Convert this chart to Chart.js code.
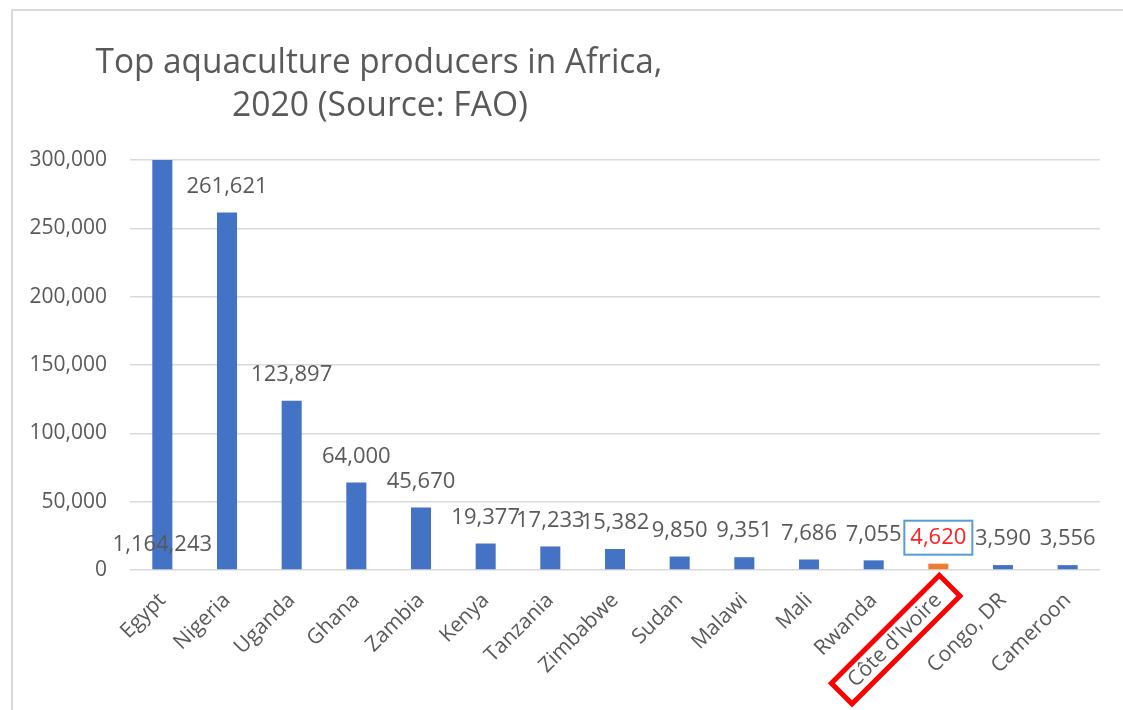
<!DOCTYPE html>
<html><head><meta charset="utf-8">
<script src="https://cdn.jsdelivr.net/npm/chart.js@4/dist/chart.umd.min.js"></script>
<style>
html,body{margin:0;padding:0;background:#fff;}
#wrap{position:relative;width:1123px;height:710px;overflow:hidden;background:#fff;}
#frame{position:absolute;left:11px;top:9px;width:1200px;height:800px;border-left:2px solid #d9d9d9;border-top:2px solid #d9d9d9;}
canvas{position:absolute;left:0;top:0;}
</style></head><body>
<div id="wrap"><div id="frame"></div><canvas id="c" width="1123" height="710"></canvas></div>
<script>
const titleLines = ["Top aquaculture producers in Africa,", "2020 (Source: FAO)"];
const countries = ["Egypt","Nigeria","Uganda","Ghana","Zambia","Kenya","Tanzania","Zimbabwe","Sudan","Malawi","Mali","Rwanda","Côte d'Ivoire","Congo, DR","Cameroon"];
const production = [1164243,261621,123897,64000,45670,19377,17233,15382,9850,9351,7686,7055,4620,3590,3556];
const highlightCountry = "Côte d'Ivoire";
const yTickValues = [0,50000,100000,150000,200000,250000,300000];

const FONT = "'Open Sans', sans-serif";
const GREY = '#595959';
const barColors = countries.map(c => c === highlightCountry ? '#ED7D31' : '#4472C4');
const fmt = v => v.toLocaleString('en-US');

const titlePlugin = {
  id: 'titleDraw',
  afterDraw(chart) {
    const ctx = chart.ctx;
    ctx.save();
    ctx.fillStyle = GREY;
    ctx.font = "34px " + FONT;
    ctx.textAlign = 'center';
    ctx.textBaseline = 'alphabetic';
    ctx.fillText(titleLines[0], 379, 73, 567);
    ctx.fillText(titleLines[1], 380, 116, 296);
    ctx.restore();
  }
};

const labelPlugin = {
  id: 'valueLabels',
  afterDatasetsDraw(chart) {
    const ctx = chart.ctx;
    const meta = chart.getDatasetMeta(0);
    const yScale = chart.scales.y;
    ctx.save();
    ctx.font = "22px " + FONT;
    ctx.textAlign = 'center';
    ctx.textBaseline = 'middle';
    meta.data.forEach((bar, i) => {
      const v = production[i];
      const txt = fmt(v);
      let y;
      if (v > yScale.max) y = yScale.bottom - 25;
      else y = bar.y - 26;
      const x = bar.x;
      if (countries[i] === highlightCountry) {
        const w = ctx.measureText(txt).width;
        ctx.strokeStyle = '#5B9BD5';
        ctx.lineWidth = 2;
        ctx.strokeRect(x - w/2 - 6, y - 17, w + 12, 34);
        ctx.fillStyle = '#FF2020';
      } else {
        ctx.fillStyle = GREY;
      }
      ctx.fillText(txt, x, y);
    });
    ctx.restore();
  },
  afterDraw(chart) {
    const xScale = chart.scales.x;
    const items = xScale.getLabelItems();
    const idx = countries.indexOf(highlightCountry);
    const it = items[idx];
    if (!it) return;
    const ctx = chart.ctx;
    const o = it.options;
    ctx.save();
    ctx.font = it.font.string;
    const w = ctx.measureText(countries[idx]).width;
    const h = it.font.lineHeight;
    ctx.translate(o.translation[0], o.translation[1]);
    ctx.rotate(o.rotation);
    let x0;
    if (o.textAlign === 'right') x0 = -w; else if (o.textAlign === 'center') x0 = -w/2; else x0 = 0;
    let y0 = it.textOffset;
    if (o.textBaseline === 'middle') y0 -= h/2; else if (o.textBaseline === 'bottom') y0 -= h;
    ctx.strokeStyle = '#FF0000';
    ctx.lineWidth = 5;
    ctx.strokeRect(x0 - 14, y0 - 2, w + 30, h + 4);
    ctx.restore();
  }
};

new Chart(document.getElementById('c'), {
  type: 'bar',
  data: {
    labels: countries,
    datasets: [{ data: production, backgroundColor: barColors, borderWidth: 0,
      categoryPercentage: 1, barPercentage: 0.31 }]
  },
  options: {
    responsive: false, animation: false, devicePixelRatio: 1,
    layout: { padding: { top: 160, right: 23, left: 0, bottom: 0 } },
    plugins: { legend: { display: false }, title: { display: false }, tooltip: { enabled: false } },
    scales: {
      y: {
        min: 0, max: 300000,
        afterBuildTicks(s) { s.ticks = yTickValues.map(v => ({ value: v })); },
        afterFit(s) { s.width = 130; },
        border: { display: false },
        grid: { color: '#d9d9d9', lineWidth: 1.5, drawTicks: false },
        ticks: { color: GREY, font: { family: FONT, size: 21 }, padding: 23,
          callback: v => fmt(v) }
      },
      x: {
        afterFit(s) { s.height = 140; },
        border: { display: false },
        grid: { display: false, drawTicks: false },
        ticks: { color: GREY, font: { family: FONT, size: 21 }, minRotation: 45, maxRotation: 45,
          padding: 18, autoSkip: false }
      }
    }
  },
  plugins: [titlePlugin, labelPlugin]
});
</script>
</body></html>
